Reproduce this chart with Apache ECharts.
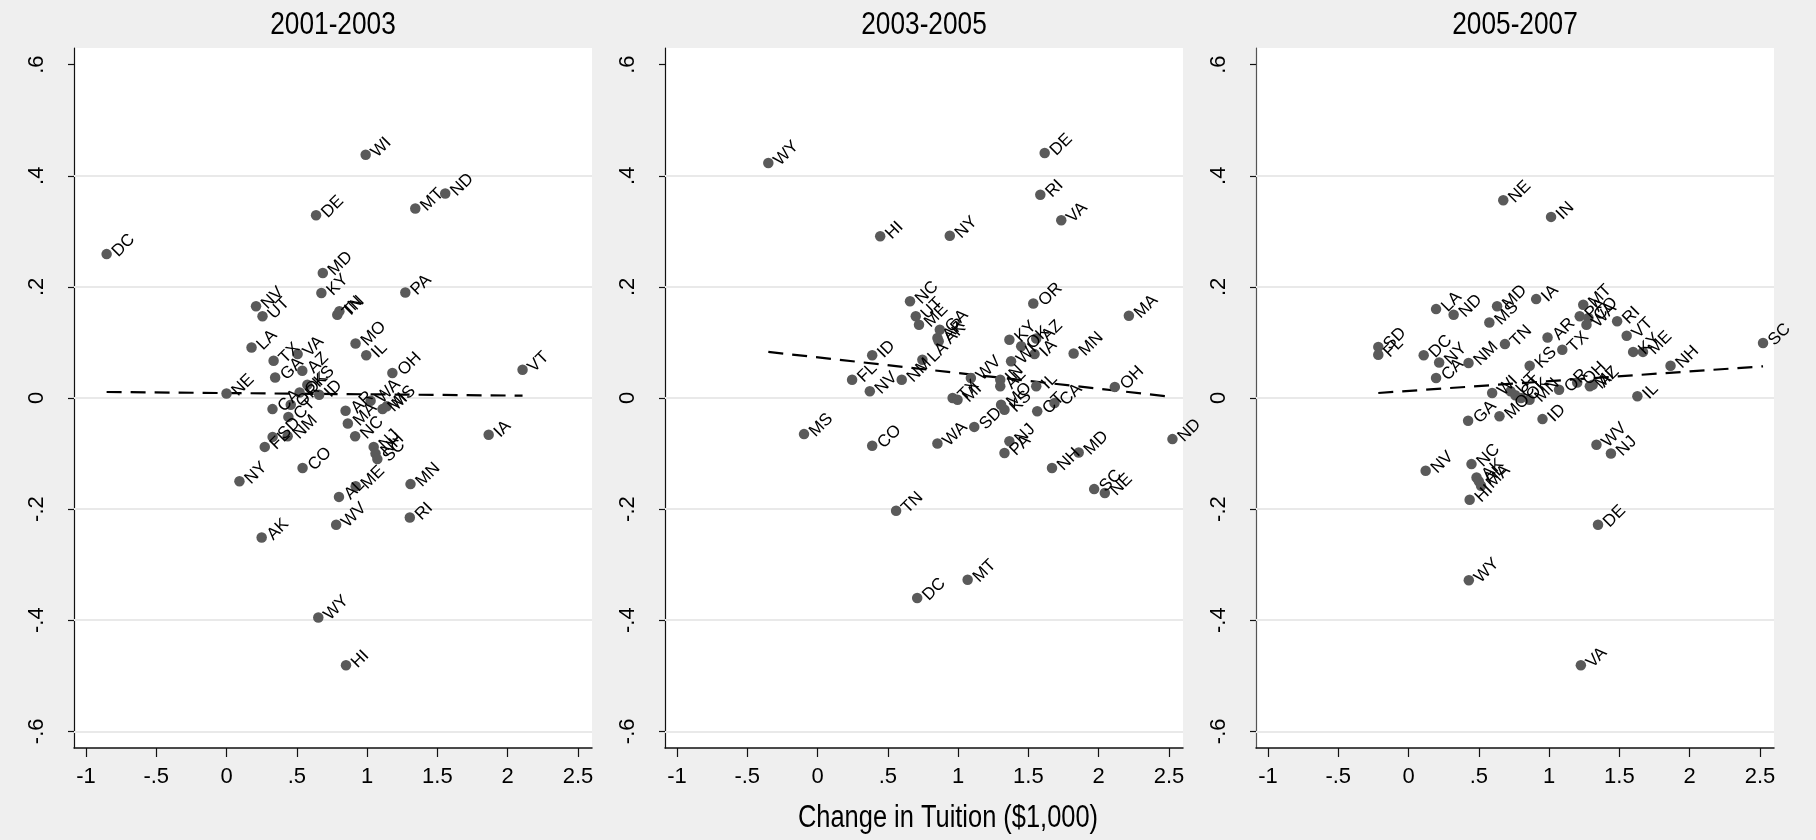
<!DOCTYPE html>
<html>
<head>
<meta charset="utf-8">
<title>Change in Tuition</title>
<script src="https://cdn.jsdelivr.net/npm/echarts@6/dist/echarts.min.js"></script>
<style>
  html, body { margin: 0; padding: 0; background: #efefef; }
  #chart { width: 1816px; height: 840px; }
</style>
</head>
<body>
<div id="chart"></div>
<script>
// ---- 2001-2003 ----
const states0103 = ['DC','WI','DE','MT','ND','MD','KY','PA','NV','UT','TN','IN','LA','MO','IL','TX','VA','GA','AZ',
  'KS','OK','OR','CA','CT','SD','NM','FL','ID','NE','AR','WA','MA','NC','MI','MS','OH','NJ','NH','SC','IA','VT',
  'CO','NY','AK','ME','AL','MN','RI','WV','WY','HI'];
const tuition0103 = [-0.853,0.99,0.637,1.343,1.556,0.685,0.675,1.272,0.21,0.256,0.788,0.803,0.178,0.918,0.994,0.335,0.506,0.346,0.539,
  0.575,0.52,0.457,0.327,0.44,0.328,0.435,0.272,0.659,0.0,0.847,1.025,0.863,0.915,1.11,1.14,1.18,1.047,1.06,1.073,1.865,2.106,
  0.541,0.092,0.25,0.919,0.80,1.309,1.304,0.78,0.653,0.85];
const change0103 = [0.259,0.438,0.329,0.341,0.368,0.225,0.189,0.190,0.165,0.147,0.150,0.156,0.091,0.098,0.077,0.067,0.079,0.037,0.049,
  0.024,0.010,-0.012,-0.020,-0.034,-0.070,-0.069,-0.088,0.006,0.008,-0.023,-0.005,-0.046,-0.069,-0.020,-0.015,0.045,-0.088,-0.100,-0.110,-0.066,0.051,
  -0.126,-0.150,-0.251,-0.159,-0.178,-0.155,-0.215,-0.228,-0.395,-0.481];
const fitX0103 = [-0.853, 2.106];
const fitY0103 = [0.0108, 0.0042];

// ---- 2003-2005 ----
const states0305 = ['WY','DE','RI','VA','HI','NY','NC','OR','MA','UT','ME','GA','AR','AK','KY','OK','AZ','IA','MN','ID',
  'LA','FL','NV','NM','WV','TX','MI','WI','IN','AL','IL','OH','MO','KS','CT','CA','SD','WA','CO','MS',
  'PA','NJ','NH','MD','SC','NE','ND','TN','DC','MT'];
const tuition0305 = [-0.350,1.616,1.585,1.734,0.446,0.941,0.658,1.535,2.215,0.699,0.722,0.870,0.853,0.862,1.365,1.449,1.556,1.544,1.822,0.389,
  0.746,0.246,0.372,0.599,1.091,0.961,0.996,1.377,1.30,1.30,1.556,2.115,1.306,1.33,1.563,1.686,1.115,0.853,0.389,-0.096,
  1.33,1.365,1.668,1.858,1.968,2.044,2.525,0.559,0.709,1.068];
const change0305 = [0.423,0.441,0.366,0.320,0.291,0.292,0.174,0.170,0.148,0.147,0.132,0.123,0.108,0.102,0.105,0.093,0.107,0.079,0.080,0.077,
  0.069,0.033,0.012,0.033,0.036,0.000,-0.003,0.066,0.033,0.021,0.021,0.020,-0.012,-0.021,-0.024,-0.009,-0.052,-0.082,-0.086,-0.065,
  -0.099,-0.078,-0.126,-0.098,-0.164,-0.171,-0.074,-0.203,-0.360,-0.327];
const fitX0305 = [-0.350, 2.525];
const fitY0305 = [0.083, 0.002];

// ---- 2005-2007 ----
const states0507 = ['NE','IN','LA','ND','MD','MS','IA','SD','FL','DC','NY','CA','NM','TN','AR','TX','KS','MT','PA','CO',
  'WA','RI','VT','KY','ME','NH','SC','IL','WI','UT','CT','OK','MN','OR','OH','MI','AZ','MO','GA','ID','NV',
  'NC','AK','AL','MA','HI','WV','NJ','DE','WY','VA'];
const tuition0507 = [0.674,1.014,0.196,0.321,0.630,0.575,0.908,-0.215,-0.215,0.108,0.218,0.196,0.427,0.686,0.989,1.094,0.862,1.243,1.218,1.28,
  1.266,1.484,1.552,1.598,1.668,1.864,2.522,1.628,0.595,0.726,0.76,0.80,0.861,1.071,1.20,1.29,1.31,0.647,0.424,0.953,0.122,
  0.448,0.484,0.50,0.516,0.435,1.337,1.440,1.348,0.429,1.226];
const change0507 = [0.356,0.326,0.160,0.150,0.165,0.136,0.178,0.092,0.078,0.077,0.064,0.036,0.063,0.097,0.109,0.087,0.058,0.168,0.147,0.144,
  0.132,0.138,0.112,0.083,0.083,0.058,0.099,0.003,0.009,0.012,0.005,0.000,-0.003,0.015,0.028,0.021,0.024,-0.033,-0.041,-0.038,-0.131,
  -0.119,-0.143,-0.150,-0.158,-0.183,-0.084,-0.100,-0.228,-0.328,-0.481];
const fitX0507 = [-0.215, 2.522];
const fitY0507 = [0.009, 0.057];

// ---- axes ----
const panelTitles = ['2001-2003', '2003-2005', '2005-2007'];
const xTicks = [-1, -0.5, 0, 0.5, 1, 1.5, 2, 2.5];
const yTicks = [-0.6, -0.4, -0.2, 0, 0.2, 0.4, 0.6];
const yGridValues = [-0.6, -0.4, -0.2, 0, 0.2, 0.4];
const xAxisTitle = 'Change in Tuition ($1,000)';

const panels = [
  { states: states0103, x: tuition0103, y: change0103, fx: fitX0103, fy: fitY0103 },
  { states: states0305, x: tuition0305, y: change0305, fx: fitX0305, fy: fitY0305 },
  { states: states0507, x: tuition0507, y: change0507, fx: fitX0507, fy: fitY0507 }
];

const FONT = '"Liberation Sans", Arial, sans-serif';
const NARROW = 0.82;   // horizontal squeeze for the headings
const gridLefts = [74, 665, 1256];
const gridWidth = 518;
const gridTop = 48;
const gridHeight = 700;

function tickText(v) {
  const r = Math.round(v * 100) / 100;
  if (r === 0) return '0';
  return String(r).replace(/^(-?)0\./, '$1.');
}

const grids = [], xAxes = [], yAxes = [], series = [], graphics = [];
panels.forEach((p, i) => {
  grids.push({ left: gridLefts[i], top: gridTop, width: gridWidth, height: gridHeight,
    show: true, backgroundColor: '#ffffff', borderWidth: 0 });
  xAxes.push({
    type: 'value', gridIndex: i, min: -1.085, max: 2.6,
    axisLine: { show: true, onZero: false, lineStyle: { color: '#111', width: 1.5 } },
    axisTick: { show: true, length: 9, customValues: xTicks, lineStyle: { color: '#111', width: 1.2 } },
    axisLabel: { customValues: xTicks, formatter: tickText, color: '#000', fontSize: 22,
      fontFamily: FONT, margin: 18 },
    splitLine: { show: false }
  });
  yAxes.push({
    type: 'value', gridIndex: i, min: -0.63, max: 0.63,
    axisLine: { show: true, onZero: false, lineStyle: { color: i === 2 ? '#555' : '#111', width: 1.2 } },
    axisTick: { show: true, length: 6, customValues: yTicks, lineStyle: { color: '#111', width: 1.2 } },
    axisLabel: { customValues: yTicks, formatter: tickText, color: '#000', fontSize: 22,
      fontFamily: FONT, rotate: 90, margin: 26 },
    splitLine: { show: false }
  });
  // horizontal reference lines, kept beneath points and labels
  series.push({
    type: 'line', xAxisIndex: i, yAxisIndex: i, data: [], z: 1, silent: true,
    markLine: {
      z: 1, silent: true, symbol: ['none', 'none'], label: { show: false },
      lineStyle: { color: '#e9e9e9', width: 2, type: 'solid' },
      data: yGridValues.map(v => ({ yAxis: v }))
    }
  });
  // fitted line
  series.push({
    type: 'line', xAxisIndex: i, yAxisIndex: i, z: 3, silent: true,
    symbol: 'none', lineStyle: { color: '#000', width: 2.2, type: [15, 9] },
    data: p.fx.map((v, k) => [v, p.fy[k]])
  });
  // states
  series.push({
    type: 'scatter', xAxisIndex: i, yAxisIndex: i, z: 6,
    symbol: 'circle', symbolSize: 10.5,
    itemStyle: { color: '#5a5a5a', opacity: 1 },
    label: { show: true, position: 'right', distance: 3, rotate: 45,
      formatter: d => d.data[2], color: '#000', fontSize: 17, fontFamily: FONT },
    labelLayout: { hideOverlap: false },
    data: p.x.map((v, k) => [v, p.y[k], p.states[k]])
  });
  graphics.push({
    type: 'text', x: gridLefts[i] + gridWidth / 2, y: 25, scaleX: NARROW,
    style: { text: panelTitles[i], font: '32px ' + FONT, fill: '#000',
      textAlign: 'center', textVerticalAlign: 'middle' }
  });
});
graphics.push({
  type: 'text', x: 948, y: 818, scaleX: NARROW,
  style: { text: xAxisTitle, font: '31px ' + FONT, fill: '#000',
    textAlign: 'center', textVerticalAlign: 'middle' }
});

const chart = echarts.init(document.getElementById('chart'), null, { renderer: 'canvas' });
chart.setOption({
  backgroundColor: '#efefef',
  animation: false,
  grid: grids,
  xAxis: xAxes,
  yAxis: yAxes,
  series: series,
  graphic: graphics
});
</script>
</body>
</html>
